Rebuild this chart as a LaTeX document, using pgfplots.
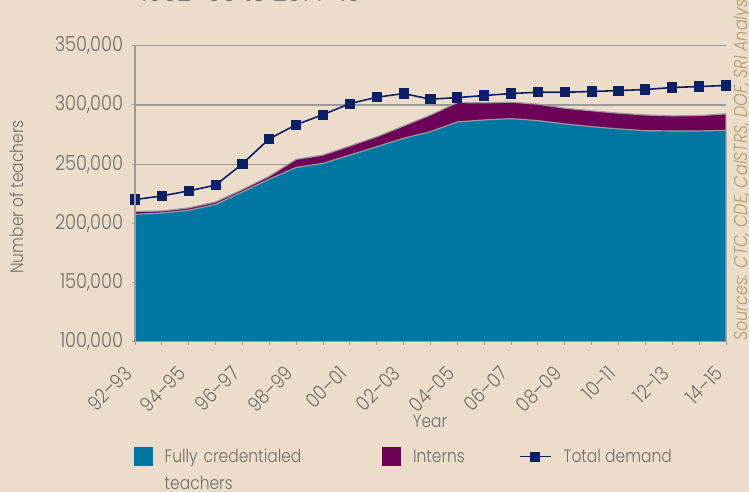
\documentclass[border=0pt]{standalone}
\usepackage{fontspec}
\setmainfont{Poppins}[UprightFont={* Light}, ItalicFont={* Light Italic}, FakeStretch=0.86]
\usepackage{pgfplots}
\usepackage{pgfplotstable}
\pgfplotsset{compat=1.18}
\definecolor{bg}{HTML}{EBDDCA}
\definecolor{cred}{HTML}{0076A3}
\definecolor{intern}{HTML}{6D0057}
\definecolor{demand}{HTML}{0E2065}
\definecolor{txt}{HTML}{6F6F6F}
\definecolor{axgray}{HTML}{9A9A9A}
\definecolor{src}{HTML}{B8996C}
\pagecolor{bg}
\pgfplotsset{
  layers/mine/.define layer set={axis background,axis grid,main,axis ticks,axis lines,axis tick labels,axis descriptions,axis foreground}{
    grid style={/pgfplots/on layer=axis grid},
    tick style={/pgfplots/on layer=axis ticks},
    axis line style={/pgfplots/on layer=axis lines},
    label style={/pgfplots/on layer=axis descriptions},
    legend style={/pgfplots/on layer=axis descriptions},
    title style={/pgfplots/on layer=axis descriptions},
    ticklabel style={/pgfplots/on layer=axis tick labels},
  },
}
\pgfplotstableread{
i cred intern demand
0 207600 2400 220100
1 208700 1700 223100
2 211000 2000 227400
3 216000 2000 232200
4 226500 2000 250300
5 237300 2500 271400
6 247200 6800 283300
7 250600 7000 291800
8 257600 7700 301100
9 264700 8400 306500
10 271800 10400 309600
11 277400 14000 304800
12 285600 16400 306200
13 287300 14400 307900
14 288400 13900 309600
15 286700 13900 310700
16 283900 13300 310700
17 281600 13400 311300
18 279700 13300 312100
19 278200 13300 313000
20 278000 12700 314700
21 278000 13000 315500
22 278500 13900 316400
}\datatable
\newcommand{\lblfont}{\fontsize{13.5}{16}\selectfont}
\begin{document}
\begin{tikzpicture}
\begin{axis}[
  set layers=mine,
  at={(0,0)}, anchor=south west,
  scale only axis, width=443.25pt, height=222pt,
  xmin=0, xmax=22, ymin=100000, ymax=350000,
  axis x line*=bottom, axis y line*=left,
  axis line style={-, axgray, line width=0.9pt},
  xtick={0,...,22},
  xticklabels={92--93,,94--95,,96--97,,98--99,,00--01,,02--03,,04--05,,06--07,,08--09,,10--11,,12--13,,14--15},
  ytick={100000,150000,200000,250000,300000,350000},
  scaled y ticks=false,
  /pgf/number format/fixed,
  /pgf/number format/1000 sep={,},
  /pgf/number format/assume math mode=true,
  ymajorgrids, grid style={axgray, line width=0.9pt},
  tick align=outside, major tick length=2.25pt,
  tick style={axgray, line width=0.75pt},
  every tick label/.append style={font=\lblfont, text=txt},
  yticklabel style={anchor=east, inner sep=0pt, xshift=-6.5pt, font=\fontsize{15.5}{18}\selectfont},
  xticklabel style={xshift=-5pt, yshift=-19pt, rotate=45, anchor=east, inner sep=0pt, font=\fontsize{15}{18}\selectfont},
  xlabel={Year}, ylabel={Number of teachers},
  every axis label/.append style={font=\lblfont, text=txt},
  xlabel style={at={(axis description cs:0.4992,-0.268)}, anchor=center},
  ylabel style={at={(axis description cs:-0.1997,0.489)}, anchor=center},
  clip mode=individual,
  legend columns=3,
  legend style={draw=none, fill=none, at={(axis description cs:-0.0017,-0.3535)}, anchor=north west,
    inner sep=0pt, outer sep=0pt, font=\lblfont, text=txt,
    cells={anchor=west}, row sep=5pt,
    /tikz/every odd column/.append style={column sep=7.125pt},
    /tikz/every even column/.append style={text height=10pt, text depth=3pt, inner sep=0pt},
    /tikz/column 2/.style={text width=161.25pt},
    /tikz/column 4/.style={text width=77.25pt}},
]
\addplot[fill=intern, draw=axgray, line width=0.9pt, forget plot]
  table[x=i, y expr=\thisrow{cred}+\thisrow{intern}] {\datatable} \closedcycle;
\addplot[fill=cred, draw=axgray, line width=0.9pt, forget plot]
  table[x=i, y=cred] {\datatable} \closedcycle;
\addplot[demand, line width=1.2pt, mark=square*, mark size=3.2pt, forget plot]
  table[x=i, y=demand] {\datatable};
\addlegendimage{legend image code/.code={\fill[cred] (0pt,-6.75pt) rectangle (13.5pt,6.75pt);}}
\addlegendentry{Fully credentialed}
\addlegendimage{legend image code/.code={\fill[intern] (0pt,-6.75pt) rectangle (13.5pt,6.75pt);}}
\addlegendentry{Interns}
\addlegendimage{legend image code/.code={\draw[demand, line width=1.2pt, mark=square*, mark size=3.2pt, mark repeat=2, mark phase=2] plot coordinates {(0pt,0pt) (11.6pt,0pt) (23.25pt,0pt)};}}
\addlegendentry{Total demand}
\addlegendimage{empty legend}
\addlegendentry{teachers}
\addlegendimage{empty legend}
\addlegendentry{}
\addlegendimage{empty legend}
\addlegendentry{}
\end{axis}
\node[anchor=base west, inner sep=0pt, text=txt, font=\fontsize{21}{24}\selectfont] at (3.75pt,255.5pt) {1992--93 to 2014--15};
\node[rotate=90, anchor=base west, inner sep=0pt, text=src, font=\fontsize{14}{17}\selectfont\itshape] at (459pt,0.5pt) {Sources: CTC, CDE, CalSTRS, DOF, SRI Analysis};
\pgfresetboundingbox
\path[use as bounding box] (-101.25pt,-112.725pt) rectangle (460.5pt,256.275pt);
\end{tikzpicture}
\end{document}
